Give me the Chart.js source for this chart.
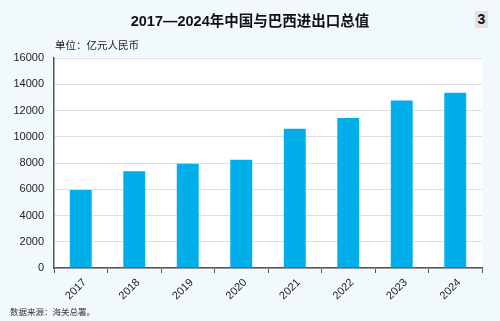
<!DOCTYPE html>
<html>
<head>
<meta charset="utf-8">
<script src="https://cdn.jsdelivr.net/npm/chart.js@4/dist/chart.umd.min.js"></script>
<style>
  html, body { margin: 0; padding: 0; }
  body { width: 500px; height: 321px; background: #f2f9fd; position: relative; overflow: hidden;
         font-family: "Liberation Sans", Arial, "Noto Sans CJK SC", sans-serif; }
  #wrap { position: absolute; left: 0; top: 0; width: 500px; height: 321px; }
  #title { position: absolute; left: 0; width: 500px; top: 9px; text-align: center;
           font-size: 14.5px; font-weight: bold; color: #111;
           font-family: "Liberation Sans", Arial, "Noto Sans CJK SC", sans-serif; }
  #badge { position: absolute; left: 475px; top: 11px; width: 13px; height: 17px; background: #e2e2e2;
           font-size: 14px; font-weight: bold; color: #111; text-align: center; line-height: 17px; }
  #unit { position: absolute; left: 55px; top: 37px; font-size: 10.5px; color: #222;
          font-family: "Noto Sans CJK SC", sans-serif; }
  #source { position: absolute; left: 10px; top: 305px; font-size: 8.5px; color: #333;
            font-family: "Noto Sans CJK SC", sans-serif; }
</style>
</head>
<body>
<div id="wrap"><canvas id="c" width="500" height="321"></canvas></div>
<div id="title">2017—2024年中国与巴西进出口总值</div>
<div id="badge">3</div>
<div id="unit">单位：亿元人民币</div>
<div id="source">数据来源：海关总署。</div>
<script>
const categories = ["2017", "2018", "2019", "2020", "2021", "2022", "2023", "2024"];
const tradeValues = [5950, 7370, 7950, 8250, 10610, 11420, 12760, 13350];
const yTicks = [0, 2000, 4000, 6000, 8000, 10000, 12000, 14000, 16000];

const plotBg = {
  id: 'plotBg',
  beforeDraw(chart) {
    const { ctx, chartArea: a } = chart;
    ctx.save();
    ctx.fillStyle = '#ffffff';
    ctx.fillRect(a.left, a.top - 1, a.right - a.left, a.bottom - a.top + 1);
    ctx.restore();
  }
};

new Chart(document.getElementById('c'), {
  type: 'bar',
  data: {
    labels: categories,
    datasets: [{
      data: tradeValues,
      backgroundColor: '#00aeea',
      borderWidth: 0,
      categoryPercentage: 1.0,
      barPercentage: 0.41
    }]
  },
  options: {
    responsive: false,
    animation: false,
    devicePixelRatio: 1,
    layout: { padding: { top: 58, right: 18, left: 0, bottom: 0 } },
    plugins: { legend: { display: false }, tooltip: { enabled: false } },
    scales: {
      x: {
        grid: { display: true, drawOnChartArea: false, drawTicks: true, tickLength: 5, color: '#555', offset: true },
        border: { display: true, color: '#555', width: 1.5 },
        ticks: { color: '#222', font: { size: 11, family: '"Liberation Sans", Arial, sans-serif' },
                 minRotation: 45, maxRotation: 45, padding: 3, labelOffset: 4 },
        afterFit(s) { s.height = 53; }
      },
      y: {
        min: 0, max: 16000,
        afterBuildTicks(s) { s.ticks = yTicks.map(v => ({ value: v })); },
        grid: { color: '#dedede', lineWidth: 1, drawTicks: false },
        border: { display: true, color: '#555', width: 1.5 },
        ticks: { color: '#222', font: { size: 11, family: '"Liberation Sans", Arial, sans-serif' }, padding: 10,
                 callback: v => String(v) },
        afterFit(s) { s.width = 54; }
      }
    }
  },
  plugins: [plotBg]
});
</script>
</body>
</html>
